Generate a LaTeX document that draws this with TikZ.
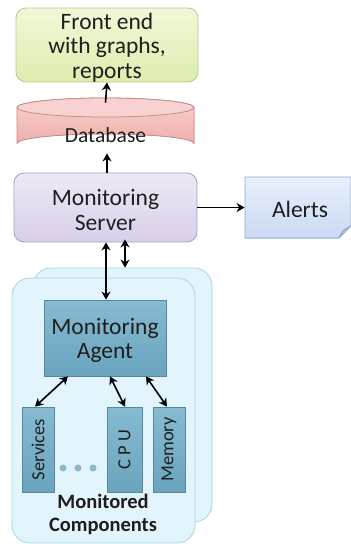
\documentclass[tikz,border=0pt]{standalone}
\usepackage{fontspec}
\setmainfont{Carlito}
\usetikzlibrary{arrows.meta,positioning,calc}
\definecolor{txt}{HTML}{1E1E1E}
\definecolor{feA}{HTML}{F1F8D8}\definecolor{feB}{HTML}{DDEDAE}\definecolor{feD}{HTML}{B6CA90}
\definecolor{dbA}{HTML}{F8D2D0}\definecolor{dbB}{HTML}{EFAFAC}\definecolor{dbD}{HTML}{C68D8B}
\definecolor{svA}{HTML}{EEE9F5}\definecolor{svB}{HTML}{D9CEE9}\definecolor{svD}{HTML}{A99CC4}
\definecolor{alA}{HTML}{E8EFFB}\definecolor{alB}{HTML}{C9DAF3}\definecolor{alD}{HTML}{8FA9D4}
\definecolor{pnF}{HTML}{E2F4FC}\definecolor{pnD}{HTML}{A9D3E6}
\definecolor{agA}{HTML}{86BBD1}\definecolor{agB}{HTML}{6AA4BE}\definecolor{agD}{HTML}{55889F}
\definecolor{dotC}{HTML}{8FB7C7}
\tikzset{
  box/.style={rounded corners=10pt, line width=0.8pt, align=center, text=txt,
    font=\fontsize{23.5}{24.5}\selectfont, inner sep=0pt},
  panel/.style={rounded corners=18pt, draw=pnD, fill=pnF, line width=0.8pt, inner sep=0pt},
  teal/.style={draw=agD, line width=0.8pt, top color=agA, bottom color=agB, inner sep=0pt,
    text=txt, font=\fontsize{23.5}{24.5}\selectfont, align=center},
  vtext/.style={rotate=90, text=txt, font=\fontsize{18.5}{22}\selectfont},
  tip/.tip={Stealth[length=8pt,width=9pt,inset=2.5pt]},
  conn/.style={line width=1.6pt, -tip},
  dconn/.style={line width=1.6pt, tip-tip},
}
\begin{document}
\begin{tikzpicture}[x=1pt,y=-1pt]
\useasboundingbox (0,0) rectangle (351,544);
% Front end
\node[box, draw=feD, top color=feA, bottom color=feB, minimum width=182pt, minimum height=74pt]
  (fe) at (107,45) {};
\node[box] (fet) at (107,47.5) {Front end\\with graphs,\\reports};
% Database cylinder
\fill[top color=dbA, bottom color=dbB, draw=dbD, line width=0.8pt]
  (17,107.5) -- (17,143.5) arc[start angle=180,end angle=360,x radius=88.5pt,y radius=-9.5pt]
  -- (194,107.5) arc[start angle=0,end angle=-180,x radius=88.5pt,y radius=-9.5pt] -- cycle;
\draw[draw=dbD, line width=0.8pt, fill=dbA] (105.5,107.5) ellipse[x radius=88.5pt, y radius=9.5pt];
\node[box, minimum width=177pt, minimum height=55pt] (db) at (105.5,125.5) {};
\node[box, font=\fontsize{21.5}{24}\selectfont] (dbt) at (105.5,135.5) {Database};
% Server
\node[box, draw=svD, top color=svA, bottom color=svB, minimum width=183pt, minimum height=69pt]
  (srv) at (105.5,207.5) {};
\node[box] (srvt) at (105.5,210) {Monitoring\\Server};
% Alerts
\node[box, minimum width=106pt, minimum height=61pt] (al) at (298,207.5) {};
\filldraw[draw=alD, top color=alA, bottom color=alB, line width=0.8pt]
  (245,177) -- (351,177) -- (351,226) -- (339,238) -- (245,238) -- cycle;
\filldraw[draw=alD, fill=alB!80!alD, line width=0.6pt] (351,226) .. controls (345,228) and (341,232) .. (339,238) -- (344,231) -- cycle;
\node[box] (alt) at (300,209) {Alerts};
% Panels
\node[panel, minimum width=179pt, minimum height=254pt] (bp) at (122.5,395) {};
\node[panel, minimum width=183pt, minimum height=265pt] (fp) at (103.5,410.5) {};
% Agent
\node[teal, minimum width=122pt, minimum height=76pt] (ag) at (105,338) {};
\node[box] (agt) at (105,340.5) {Monitoring\\Agent};
% Components
\node[teal, minimum width=32pt, minimum height=85pt] (svc) at (38,449.5) {};
\node[vtext] at (svc) {Services};
\node[teal, minimum width=35pt, minimum height=85pt] (cpu) at (124.5,449.5) {};
\node[vtext] at (cpu) {C P U};
\node[teal, minimum width=32pt, minimum height=85pt] (mem) at (169,449.5) {};
\node[vtext] at (mem) {Memory};
\foreach \x/\n in {63/d1,78/d2,93/d3} \fill[dotC] (\x,468) circle (3.5pt) coordinate (\n);
\node[text=txt, font=\bfseries\fontsize{20.5}{23}\selectfont, align=center] (mc) at (103,514)
  {Monitored\\Components};
% Connectors
\draw[conn] ([yshift=-5pt]db.north) -- (fe.south);
\draw[conn] ([xshift=1.5pt]srv.north) -- ([xshift=1.5pt]db.south);
\draw[conn] (srv.east) -- (al.west);
\draw[dconn] ([xshift=0.5pt]srv.south) -- ([xshift=1pt]ag.north);
\draw[dconn] ([xshift=19.5pt,yshift=3pt]srv.south) -- ([xshift=19.5pt]srv.south |- bp.north);
\draw[dconn] ([xshift=-37pt]ag.south) -- ([xshift=-3pt]svc.north);
\draw[dconn] ([xshift=5pt]ag.south) -- ([xshift=0.5pt]cpu.north);
\draw[dconn] ([xshift=41pt]ag.south) -- ([xshift=-2pt]mem.north);
\end{tikzpicture}
\end{document}
